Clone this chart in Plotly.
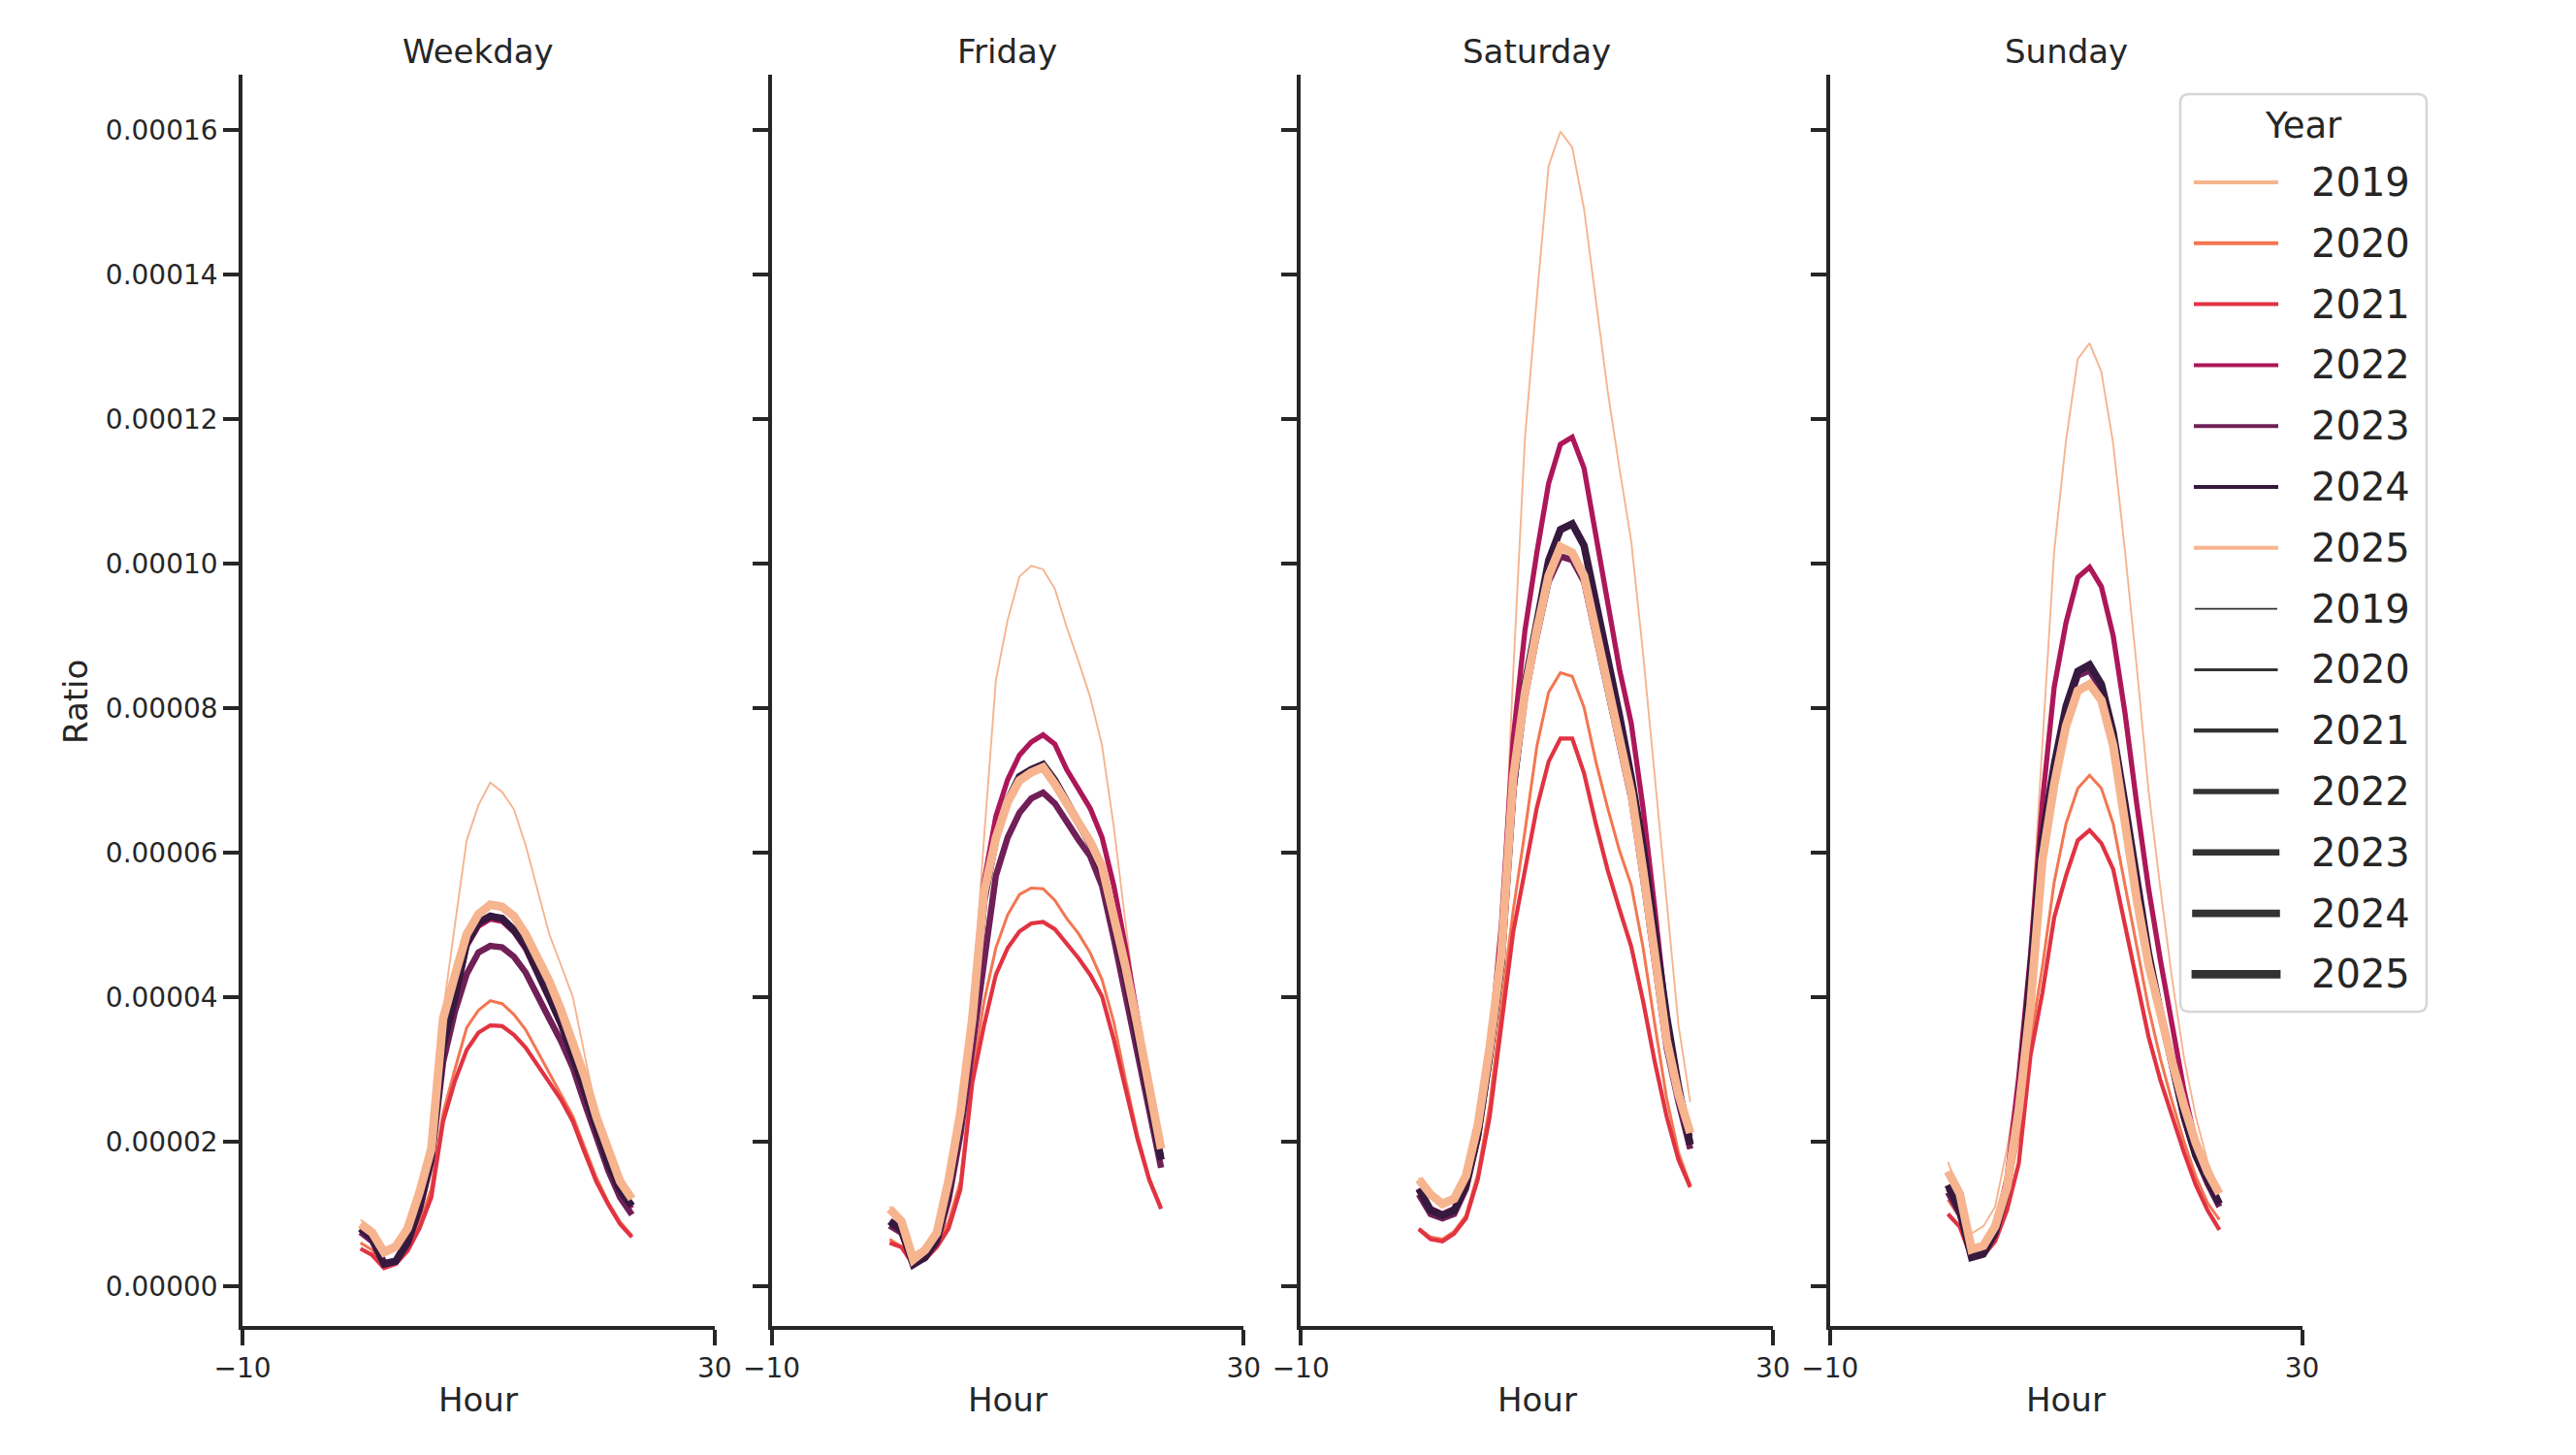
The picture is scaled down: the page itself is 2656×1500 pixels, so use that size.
import plotly.graph_objects as go

# ---------------- data (ratio values in units of 1e-5) ----------------
PANELS = ["Weekday", "Friday", "Saturday", "Sunday"]
YEARS = [2019, 2020, 2021, 2022, 2023, 2024, 2025]
HOURS = list(range(24))
UNIT = 1e-5

wd_2019 = [0.92, 0.80, 0.50, 0.60, 0.85, 1.35, 2.00, 3.80, 5.00, 6.17, 6.66, 6.97, 6.84, 6.60, 6.10, 5.49, 4.87, 4.44, 4.00, 3.20, 2.40, 1.91, 1.54, 1.23]
wd_2020 = [0.60, 0.50, 0.28, 0.34, 0.55, 0.88, 1.35, 2.40, 3.00, 3.58, 3.82, 3.95, 3.91, 3.76, 3.55, 3.25, 2.95, 2.65, 2.35, 1.92, 1.50, 1.16, 0.89, 0.70]
wd_2021 = [0.52, 0.43, 0.25, 0.31, 0.49, 0.80, 1.23, 2.28, 2.84, 3.27, 3.51, 3.61, 3.60, 3.48, 3.30, 3.05, 2.82, 2.58, 2.28, 1.85, 1.44, 1.13, 0.86, 0.68]
wd_2022 = [0.78, 0.64, 0.30, 0.35, 0.60, 1.08, 1.76, 3.25, 3.95, 4.70, 4.98, 5.08, 5.05, 4.90, 4.66, 4.33, 3.96, 3.60, 3.16, 2.68, 2.16, 1.68, 1.31, 1.08]
wd_2023 = [0.75, 0.62, 0.30, 0.34, 0.58, 1.05, 1.72, 3.10, 3.80, 4.32, 4.62, 4.71, 4.69, 4.56, 4.34, 4.04, 3.70, 3.39, 3.02, 2.53, 2.03, 1.60, 1.23, 0.99]
wd_2024 = [0.80, 0.66, 0.31, 0.35, 0.62, 1.10, 1.80, 3.33, 4.00, 4.75, 5.03, 5.12, 5.09, 4.93, 4.71, 4.38, 4.00, 3.64, 3.20, 2.71, 2.19, 1.70, 1.33, 1.11]
wd_2025 = [0.86, 0.74, 0.47, 0.55, 0.80, 1.30, 1.90, 3.70, 4.30, 4.87, 5.15, 5.28, 5.25, 5.12, 4.87, 4.56, 4.22, 3.82, 3.39, 2.90, 2.34, 1.85, 1.45, 1.21]

fr_2019 = [1.10, 0.95, 0.45, 0.55, 0.80, 1.40, 2.50, 3.90, 6.20, 8.38, 9.22, 9.82, 9.97, 9.92, 9.65, 9.12, 8.65, 8.15, 7.48, 6.35, 5.01, 3.67, 2.70, 1.95]
fr_2020 = [0.65, 0.55, 0.28, 0.38, 0.58, 0.90, 1.45, 2.94, 3.94, 4.68, 5.14, 5.42, 5.51, 5.50, 5.34, 5.09, 4.88, 4.61, 4.24, 3.65, 2.85, 2.10, 1.50, 1.10]
fr_2021 = [0.60, 0.54, 0.30, 0.37, 0.54, 0.80, 1.34, 2.81, 3.61, 4.31, 4.68, 4.91, 5.02, 5.04, 4.94, 4.74, 4.54, 4.31, 4.01, 3.41, 2.70, 2.04, 1.47, 1.07]
fr_2022 = [0.88, 0.76, 0.32, 0.42, 0.65, 1.35, 2.35, 3.85, 5.60, 6.50, 7.01, 7.35, 7.53, 7.63, 7.50, 7.15, 6.88, 6.61, 6.21, 5.54, 4.68, 3.74, 2.81, 1.81]
fr_2023 = [0.84, 0.74, 0.30, 0.40, 0.60, 1.20, 2.10, 3.30, 4.60, 5.68, 6.21, 6.55, 6.75, 6.83, 6.68, 6.41, 6.18, 5.95, 5.54, 4.81, 4.01, 3.21, 2.34, 1.64]
fr_2024 = [0.90, 0.78, 0.30, 0.40, 0.65, 1.35, 2.30, 3.65, 5.35, 6.20, 6.72, 7.05, 7.15, 7.22, 7.00, 6.70, 6.40, 6.12, 5.75, 5.05, 4.30, 3.45, 2.60, 1.75]
fr_2025 = [1.07, 0.90, 0.37, 0.50, 0.74, 1.47, 2.41, 3.70, 5.45, 6.20, 6.70, 7.00, 7.11, 7.18, 6.95, 6.68, 6.41, 6.15, 5.81, 5.14, 4.41, 3.61, 2.81, 1.90]

sa_2019 = [1.50, 1.25, 1.15, 1.22, 1.55, 2.30, 3.20, 4.90, 8.49, 11.75, 13.68, 15.50, 15.98, 15.76, 14.91, 13.68, 12.39, 11.32, 10.31, 8.76, 7.04, 5.33, 3.62, 2.55]
sa_2020 = [0.80, 0.68, 0.65, 0.76, 0.98, 1.55, 2.50, 3.90, 5.20, 6.30, 7.47, 8.22, 8.49, 8.44, 8.01, 7.26, 6.62, 6.03, 5.55, 4.69, 3.62, 2.60, 1.85, 1.40]
sa_2021 = [0.79, 0.65, 0.62, 0.73, 0.94, 1.48, 2.34, 3.62, 4.90, 5.76, 6.62, 7.26, 7.58, 7.58, 7.10, 6.40, 5.76, 5.22, 4.70, 3.95, 3.10, 2.35, 1.75, 1.37]
sa_2022 = [1.35, 1.08, 1.00, 1.08, 1.42, 2.15, 3.25, 5.01, 7.58, 9.08, 10.15, 11.11, 11.65, 11.75, 11.32, 10.36, 9.40, 8.54, 7.79, 6.62, 5.22, 3.73, 2.76, 2.07]
sa_2023 = [1.27, 1.00, 0.94, 1.00, 1.35, 2.05, 3.15, 4.45, 6.85, 8.15, 9.00, 9.75, 10.10, 10.05, 9.75, 9.00, 8.25, 7.50, 6.75, 5.65, 4.40, 3.30, 2.55, 1.90]
sa_2024 = [1.35, 1.05, 0.98, 1.05, 1.40, 2.10, 3.20, 4.50, 6.90, 8.33, 9.18, 10.04, 10.47, 10.55, 10.25, 9.50, 8.65, 7.90, 7.04, 6.08, 4.90, 3.73, 2.76, 1.96]
sa_2025 = [1.48, 1.27, 1.14, 1.21, 1.53, 2.23, 3.30, 4.60, 7.04, 8.22, 9.08, 9.83, 10.23, 10.15, 9.83, 9.08, 8.33, 7.58, 6.83, 5.76, 4.48, 3.41, 2.66, 2.12]

su_2019 = [1.72, 1.28, 0.73, 0.83, 1.10, 1.90, 2.90, 4.80, 7.50, 10.17, 11.70, 12.83, 13.05, 12.65, 11.66, 10.17, 8.56, 6.85, 5.50, 4.24, 3.16, 2.35, 1.72, 1.32]
su_2020 = [1.20, 0.95, 0.42, 0.45, 0.70, 1.20, 2.10, 3.40, 4.42, 5.59, 6.40, 6.89, 7.07, 6.89, 6.40, 5.55, 4.65, 3.85, 3.15, 2.55, 2.00, 1.52, 1.15, 0.92]
su_2021 = [1.00, 0.82, 0.38, 0.42, 0.62, 1.05, 1.70, 3.20, 4.06, 5.10, 5.68, 6.17, 6.31, 6.13, 5.77, 5.00, 4.20, 3.45, 2.85, 2.35, 1.85, 1.40, 1.05, 0.78]
su_2022 = [1.35, 1.10, 0.40, 0.45, 0.80, 1.50, 2.90, 4.60, 6.70, 8.29, 9.18, 9.81, 9.95, 9.68, 9.00, 7.93, 6.67, 5.50, 4.51, 3.61, 2.71, 1.99, 1.50, 1.14]
su_2023 = [1.30, 1.00, 0.40, 0.45, 0.72, 1.30, 2.45, 4.25, 6.10, 7.10, 7.95, 8.45, 8.52, 8.25, 7.60, 6.60, 5.50, 4.55, 3.75, 3.05, 2.35, 1.80, 1.42, 1.10]
su_2024 = [1.40, 1.05, 0.40, 0.45, 0.75, 1.35, 2.50, 4.30, 6.20, 7.21, 8.02, 8.51, 8.60, 8.33, 7.66, 6.67, 5.59, 4.60, 3.79, 3.07, 2.35, 1.81, 1.45, 1.14]
su_2025 = [1.59, 1.28, 0.51, 0.56, 0.83, 1.37, 2.44, 3.90, 5.90, 6.94, 7.75, 8.24, 8.33, 8.11, 7.48, 6.40, 5.35, 4.45, 3.75, 3.10, 2.50, 1.98, 1.58, 1.28]

X_TICK_VALUES = [-10, 30]
X_TICK_LABELS = ["\u221210", "30"]
Y_TICK_VALUES = [0.0, 0.00002, 0.00004, 0.00006, 0.00008, 0.00010, 0.00012, 0.00014, 0.00016]
Y_TICK_LABELS = ["0.00000", "0.00002", "0.00004", "0.00006", "0.00008", "0.00010", "0.00012", "0.00014", "0.00016"]

SERIES = {
    "Weekday": [wd_2019, wd_2020, wd_2021, wd_2022, wd_2023, wd_2024, wd_2025],
    "Friday": [fr_2019, fr_2020, fr_2021, fr_2022, fr_2023, fr_2024, fr_2025],
    "Saturday": [sa_2019, sa_2020, sa_2021, sa_2022, sa_2023, sa_2024, sa_2025],
    "Sunday": [su_2019, su_2020, su_2021, su_2022, su_2023, su_2024, su_2025],
}

# ---------------- styles ----------------
YEAR_COLORS = ["#f6b48f", "#f37651", "#e13342", "#ad1759", "#701f57", "#35193e", "#f6b48f"]
YEAR_WIDTHS = [1.9, 3.0, 4.2, 5.3, 6.5, 7.6, 8.8]
TEXT = "#262626"
FONT = "DejaVu Sans"

W, H = 2656, 1500
OFF = 8  # page body margin


def fx(px):
    return (px - OFF) / W


def fy(py):
    return 1 - (py - OFF) / H


panel_left = [250.0, 795.6, 1341.2, 1886.8]
panel_width = 486.7
y_top_px, y_bot_px = 76.5, 1367.0
zero_px, top_tick_px = 1326.0, 134.0
per_px = 0.00016 / (zero_px - top_tick_px)
y_range = [-(y_bot_px - zero_px) * per_px, (zero_px - y_top_px) * per_px]

fig = go.Figure()
layout = dict(
    width=W, height=H, autosize=False,
    margin=dict(l=0, r=0, t=0, b=0, pad=0, autoexpand=False),
    paper_bgcolor="white", plot_bgcolor="white",
    showlegend=False,
    font=dict(family=FONT, color=TEXT),
)

annotations = []
shapes = []

for i, panel in enumerate(PANELS):
    n = "" if i == 0 else str(i + 1)
    xa, ya = "x" + n, "y" + n
    for j, year in enumerate(YEARS):
        vals = [v * UNIT for v in SERIES[panel][j]]
        fig.add_trace(go.Scatter(
            x=HOURS, y=vals, mode="lines",
            line=dict(color=YEAR_COLORS[j], width=YEAR_WIDTHS[j]),
            name=str(year), xaxis=xa, yaxis=ya, showlegend=False,
            hoverinfo="skip",
        ))
    x0 = panel_left[i]
    x1 = x0 + panel_width
    layout["xaxis" + n] = dict(
        domain=[fx(x0), fx(x1)], range=[-10, 30], anchor=ya, automargin=False,
        tickmode="array", tickvals=X_TICK_VALUES, ticktext=X_TICK_LABELS,
        showline=True, linecolor=TEXT, linewidth=3.5,
        ticks="outside", ticklen=16, tickwidth=3.5, tickcolor=TEXT,
        showgrid=False, zeroline=False,
        tickfont=dict(family=FONT, size=28, color=TEXT),
    )
    layout["yaxis" + n] = dict(
        domain=[fy(y_bot_px), fy(y_top_px)], range=y_range, anchor=xa, automargin=False,
        tickmode="array", tickvals=Y_TICK_VALUES, ticktext=Y_TICK_LABELS,
        showticklabels=(i == 0),
        showline=True, linecolor=TEXT, linewidth=3.5,
        ticks="outside", ticklen=16, tickwidth=3.5, tickcolor=TEXT,
        showgrid=False, zeroline=False,
        tickfont=dict(family=FONT, size=28, color=TEXT),
    )
    cx = fx((x0 + x1) / 2)
    annotations.append(dict(text=panel, x=cx, y=fy(53), xref="paper", yref="paper",
                            xanchor="center", yanchor="middle", showarrow=False,
                            font=dict(family=FONT, size=34, color=TEXT)))
    annotations.append(dict(text="Hour", x=cx, y=fy(1443), xref="paper", yref="paper",
                            xanchor="center", yanchor="middle", showarrow=False,
                            font=dict(family=FONT, size=34, color=TEXT)))

annotations.append(dict(text="Ratio", x=fx(78), y=fy(724), xref="paper", yref="paper",
                        xanchor="center", yanchor="middle", showarrow=False, textangle=-90,
                        font=dict(family=FONT, size=34, color=TEXT)))

# ---------------- legend (drawn manually to match the reference) ----------------
lx0, lx1, ly0, ly1, r = 2248, 2502, 97, 1043, 9
rx, ry = r / W, r / H
X0, X1, Y0, Y1 = fx(lx0), fx(lx1), fy(ly0), fy(ly1)
path = (f"M{X0 + rx},{Y0} L{X1 - rx},{Y0} Q{X1},{Y0} {X1},{Y0 - ry} "
        f"L{X1},{Y1 + ry} Q{X1},{Y1} {X1 - rx},{Y1} L{X0 + rx},{Y1} "
        f"Q{X0},{Y1} {X0},{Y1 + ry} L{X0},{Y0 - ry} Q{X0},{Y0} {X0 + rx},{Y0} Z")
shapes.append(dict(type="path", path=path, xref="paper", yref="paper",
                   line=dict(color="#d6d6d6", width=2.5), fillcolor="rgba(255,255,255,0.85)",
                   layer="above"))
annotations.append(dict(text="Year", x=fx(2375), y=fy(129), xref="paper", yref="paper",
                        xanchor="center", yanchor="middle", showarrow=False,
                        font=dict(family=FONT, size=37, color=TEXT)))

row0, row_step = 188.0, 62.8
entries = [(str(y), YEAR_COLORS[k], 4.0) for k, y in enumerate(YEARS)] + \
          [(str(y), "#333333", YEAR_WIDTHS[k]) for k, y in enumerate(YEARS)]
for k, (label, col, wdt) in enumerate(entries):
    yc = row0 + row_step * k
    shapes.append(dict(type="line", xref="paper", yref="paper",
                       x0=fx(2264 - wdt / 2), x1=fx(2347 + wdt / 2), y0=fy(yc), y1=fy(yc),
                       line=dict(color=col, width=wdt), layer="above"))
    annotations.append(dict(text=label, x=fx(2381), y=fy(yc), xref="paper", yref="paper",
                            xanchor="left", yanchor="middle", showarrow=False,
                            font=dict(family=FONT, size=40, color=TEXT)))

layout["annotations"] = annotations
layout["shapes"] = shapes
fig.update_layout(**layout)
fig.write_html("out.html")
